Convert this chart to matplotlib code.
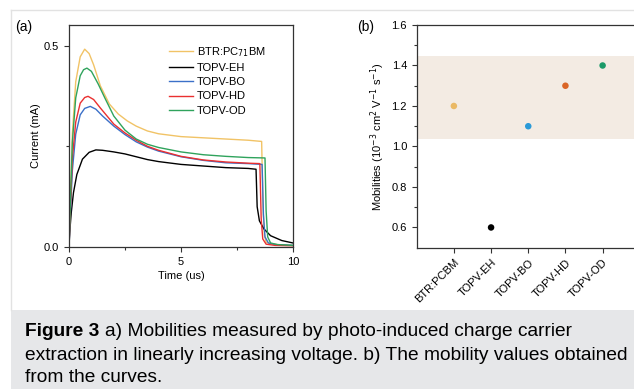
import matplotlib
matplotlib.use('Agg')
import matplotlib.pyplot as plt
from matplotlib.lines import Line2D
from matplotlib.patches import Rectangle

# ---- panel (a): photo-CELIV transients ----
t_btr = [0, 0.05, 0.15, 0.3, 0.5, 0.7, 0.9, 1.1, 1.4, 1.8, 2.2, 2.6, 3.0, 3.5, 4.0, 5.0, 6.0, 7.0, 8.0, 8.6, 8.66, 8.72, 8.8, 9.0, 9.5, 10]
i_btr = [0, 0.10, 0.28, 0.41, 0.472, 0.491, 0.480, 0.452, 0.40, 0.355, 0.33, 0.313, 0.300, 0.288, 0.281, 0.274, 0.271, 0.268, 0.265, 0.262, 0.10, 0.03, 0.012, 0.008, 0.005, 0.004]

t_eh = [0, 0.03, 0.1, 0.2, 0.35, 0.6, 0.9, 1.2, 1.5, 2.0, 2.5, 3.0, 3.5, 4.0, 5.0, 6.0, 7.0, 8.0, 8.35, 8.4, 8.5, 8.7, 9.0, 9.5, 10]
i_eh = [0, 0.035, 0.085, 0.135, 0.18, 0.218, 0.235, 0.241, 0.24, 0.236, 0.231, 0.224, 0.217, 0.212, 0.205, 0.201, 0.197, 0.195, 0.193, 0.10, 0.065, 0.045, 0.028, 0.016, 0.01]

t_bo = [0, 0.05, 0.15, 0.3, 0.5, 0.7, 0.95, 1.2, 1.5, 2.0, 2.5, 3.0, 3.5, 4.0, 5.0, 6.0, 7.0, 8.0, 8.62, 8.68, 8.75, 8.9, 9.2, 10]
i_bo = [0, 0.07, 0.19, 0.28, 0.328, 0.344, 0.349, 0.342, 0.325, 0.3, 0.279, 0.261, 0.248, 0.238, 0.224, 0.215, 0.209, 0.207, 0.205, 0.08, 0.025, 0.01, 0.006, 0.004]

t_hd = [0, 0.05, 0.15, 0.3, 0.5, 0.7, 0.85, 1.1, 1.4, 2.0, 2.5, 3.0, 3.5, 4.0, 5.0, 6.0, 7.0, 8.0, 8.52, 8.58, 8.65, 8.8, 9.2, 10]
i_hd = [0, 0.08, 0.22, 0.31, 0.357, 0.371, 0.374, 0.366, 0.345, 0.305, 0.283, 0.265, 0.25, 0.24, 0.225, 0.216, 0.211, 0.208, 0.207, 0.07, 0.02, 0.007, 0.004, 0.003]

t_od = [0, 0.05, 0.15, 0.3, 0.5, 0.65, 0.8, 1.0, 1.3, 1.6, 2.0, 2.5, 3.0, 3.5, 4.0, 5.0, 6.0, 7.0, 8.0, 8.75, 8.8, 8.87, 9.0, 9.3, 10]
i_od = [0, 0.09, 0.26, 0.37, 0.425, 0.440, 0.444, 0.436, 0.405, 0.37, 0.325, 0.29, 0.268, 0.255, 0.247, 0.236, 0.229, 0.225, 0.222, 0.221, 0.09, 0.025, 0.01, 0.006, 0.004]

# ---- panel (b): mobilities ----
samples = ['BTR:PCBM', 'TOPV-EH', 'TOPV-BO', 'TOPV-HD', 'TOPV-OD']
mobility = [1.2, 0.6, 1.1, 1.3, 1.4]
band_low, band_high = 1.035, 1.445

caption_bold = 'Figure 3'
caption_lines = ['a) Mobilities measured by photo-induced charge carrier',
                 'extraction in linearly increasing voltage. b) The mobility values obtained',
                 'from the curves.']

plt.rcParams['font.family'] = ['Liberation Sans', 'DejaVu Sans']
plt.rcParams['font.size'] = 8

W, H = 634, 389
fig = plt.figure(figsize=(W / 100, H / 100), dpi=100)
fig.patch.set_facecolor('white')

# page frame and caption box
fig.add_artist(Line2D([11 / W, 1], [1 - 10 / H, 1 - 10 / H], color='#e2e2e2', lw=1))
fig.add_artist(Line2D([11 / W, 11 / W], [1 - 10 / H, 79 / H], color='#e2e2e2', lw=1))
fig.add_artist(Rectangle((11 / W, 0), 1, 79 / H, facecolor='#e6e7e9', edgecolor='none',
                         transform=fig.transFigure))

spine_col = '#333333'

# ---- (a) ----
ax = fig.add_axes([69 / W, 142 / H, 224 / W, 222 / H])
ax.plot(t_btr, i_btr, color='#f1c366', lw=1.0, label='BTR:PC$_{71}$BM')
ax.plot(t_eh, i_eh, color='black', lw=1.0, label='TOPV-EH')
ax.plot(t_bo, i_bo, color='#3b70c8', lw=1.0, label='TOPV-BO')
ax.plot(t_hd, i_hd, color='#ea3030', lw=1.0, label='TOPV-HD')
ax.plot(t_od, i_od, color='#2fa35c', lw=1.0, label='TOPV-OD')
ax.set_xlim(0, 10)
ax.set_ylim(0, 0.551)
ax.set_xticks([0, 5, 10])
ax.set_xticks([2.5, 7.5], minor=True)
ax.set_yticks([0, 0.5])
ax.set_yticklabels(['0.0', '0.5'])
ax.set_yticks([0.25], minor=True)
ax.tick_params(which='both', direction='out', color=spine_col)
ax.tick_params(which='major', length=3.5, width=0.8)
ax.tick_params(which='minor', length=2, width=0.8)
for s in ax.spines.values():
    s.set_color(spine_col)
    s.set_linewidth(0.9)
ax.set_xlabel('Time (us)', labelpad=3)
ax.set_ylabel('Current (mA)', labelpad=2)
ax.legend(loc='upper left', bbox_to_anchor=(0.42, 0.935), frameon=False, fontsize=8,
          handlelength=2.2, handletextpad=0.35, labelspacing=0.38, borderpad=0)
fig.text(15 / W, 1 - 27 / H, '(a)', fontsize=10, va='center', ha='left')

# ---- (b) ----
bx = fig.add_axes([416.7 / W, 141.3 / H, 223.1 / W, 222.7 / H])
bx.axhspan(band_low, band_high, color='#f3ebe3', lw=0, zorder=0)
dot_colors = ['#eab965', 'black', '#2a9ad8', '#da6526', '#1b9a68']
bx.scatter(range(len(samples)), mobility, c=dot_colors, s=22, zorder=3, linewidths=0)
bx.set_xlim(-1, 5)
bx.set_ylim(0.5, 1.6)
bx.set_xticks(range(len(samples)))
bx.set_xticklabels(samples, rotation=45, ha='right', rotation_mode='anchor')
bx.set_yticks([0.6, 0.8, 1.0, 1.2, 1.4, 1.6])
bx.set_yticks([0.7, 0.9, 1.1, 1.3, 1.5], minor=True)
bx.tick_params(which='both', direction='out', color=spine_col)
bx.tick_params(which='major', length=3.5, width=0.8)
bx.tick_params(which='minor', length=2, width=0.8)
for s in bx.spines.values():
    s.set_color(spine_col)
    s.set_linewidth(0.9)
bx.set_ylabel('Mobilities (10$^{-3}$ cm$^2$ V$^{-1}$ s$^{-1}$)', labelpad=3)
fig.text(357 / W, 1 - 27 / H, '(b)', fontsize=10, va='center', ha='left')

# ---- caption ----
cap_fs = 13.75
cap_font = ['Liberation Sans', 'DejaVu Sans']
y1 = 1 - 331 / H
fb = fig.text(25 / W, y1, caption_bold, fontsize=cap_fs, fontweight='bold',
              family=cap_font, va='center', ha='left')
fig.canvas.draw()
bb = fb.get_window_extent()
fig.text((bb.x1 + 6) / W, y1, caption_lines[0], fontsize=cap_fs, family=cap_font,
         va='center', ha='left')
fig.text(25 / W, 1 - 355 / H, caption_lines[1], fontsize=cap_fs, family=cap_font,
         va='center', ha='left')
fig.text(25 / W, 1 - 378 / H, caption_lines[2], fontsize=cap_fs, family=cap_font,
         va='center', ha='left')

fig.savefig('out.png', dpi=100)
